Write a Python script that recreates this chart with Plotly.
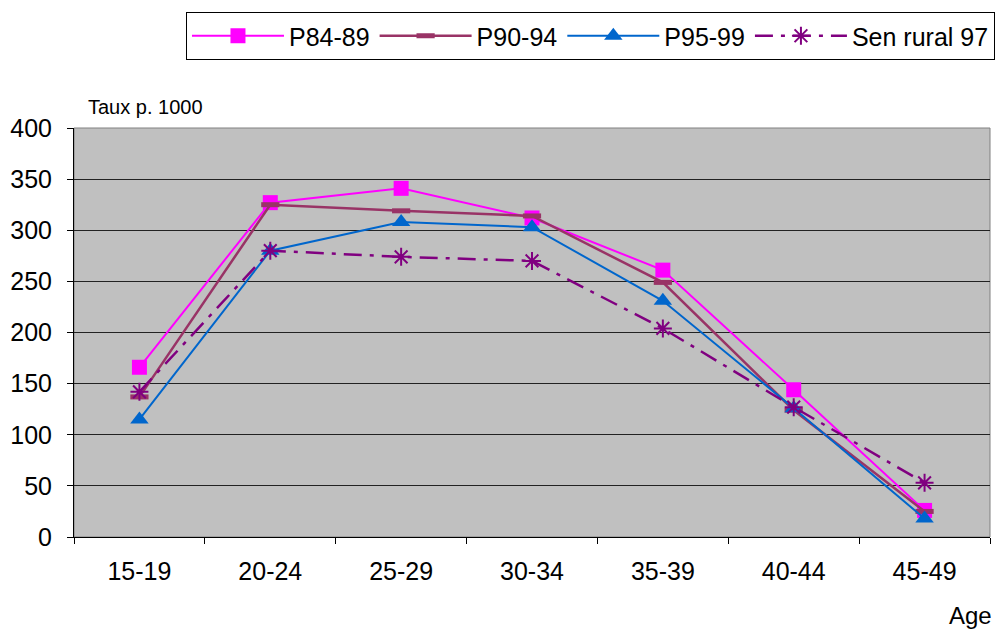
import plotly.graph_objects as go

ages = ["15-19", "20-24", "25-29", "30-34", "35-39", "40-44", "45-49"]
p84_89 = [166, 327, 341, 312, 261, 144, 26]
p90_94 = [137, 325, 319, 314, 249, 124, 25]
p95_99 = [115, 280, 308, 303, 231, 126, 18]
sen_rural_97 = [142, 280, 274, 270, 204, 127, 53]
y_ticks = [0, 50, 100, 150, 200, 250, 300, 350, 400]

fig = go.Figure()
fig.add_trace(go.Scatter(x=ages, y=p84_89, name="P84-89", mode="lines+markers",
                         line=dict(color="#FF00FF", width=2),
                         marker=dict(symbol="square", size=15, color="#FF00FF")))
fig.add_trace(go.Scatter(x=ages, y=p90_94, name="P90-94", mode="lines+markers",
                         line=dict(color="#993366", width=2.5),
                         marker=dict(symbol="line-ew", size=13,
                                     line=dict(color="#993366", width=5))))
fig.add_trace(go.Scatter(x=ages, y=p95_99, name="P95-99", mode="lines+markers",
                         line=dict(color="#0066CC", width=2),
                         marker=dict(symbol="triangle-up", size=16, color="#0066CC")))
fig.add_trace(go.Scatter(x=ages, y=sen_rural_97, name="Sen rural 97", mode="lines+markers",
                         line=dict(color="#800080", width=2.5, dash="18px,8px,4px,8px"),
                         marker=dict(symbol="asterisk-open", size=15,
                                     line=dict(color="#800080", width=2))))

pw, ph = 1003 - 74 - 8, 632 - 128 - 95

fig.update_layout(
    width=1003, height=632,
    margin=dict(l=74, r=8, t=128, b=95),
    paper_bgcolor="white", plot_bgcolor="#C0C0C0",
    font=dict(family="Liberation Sans, Arial, sans-serif", color="black"),
    showlegend=True,
    legend=dict(orientation="h", x=(1000 - 74) / pw, xanchor="right",
                y=(537 - 12) / ph, yanchor="top",
                bordercolor="black", borderwidth=1, bgcolor="white",
                font=dict(size=25), itemwidth=92, tracegroupgap=0),
    xaxis=dict(type="category", tickson="boundaries", ticks="outside", ticklen=6,
               tickcolor="black", showline=True, linecolor="black", linewidth=1,
               showgrid=False, tickfont=dict(size=25), range=[-0.5, 6.5],
               ticklabelstandoff=12),
    yaxis=dict(range=[0, 400], tickvals=y_ticks, ticks="outside", ticklen=6,
               tickcolor="black", showline=True, linecolor="black", linewidth=1,
               showgrid=True, gridcolor="#222222", gridwidth=1,
               tickfont=dict(size=25), zeroline=False, ticklabelstandoff=10),
    annotations=[
        dict(text="Taux p. 1000", xref="paper", yref="paper",
             x=(146 - 74) / pw, y=(537 - 107) / ph, showarrow=False,
             xanchor="center", yanchor="middle", font=dict(size=20)),
        dict(text="Age", xref="paper", yref="paper",
             x=(975 - 74) / pw, y=(537 - 615) / ph, showarrow=False,
             xanchor="center", yanchor="middle", font=dict(size=24)),
    ],
)
fig.add_shape(type="rect", xref="paper", yref="paper", x0=0, y0=0, x1=1, y1=1,
              line=dict(color="#808080", width=1), layer="below")

fig.write_html("out.html")
